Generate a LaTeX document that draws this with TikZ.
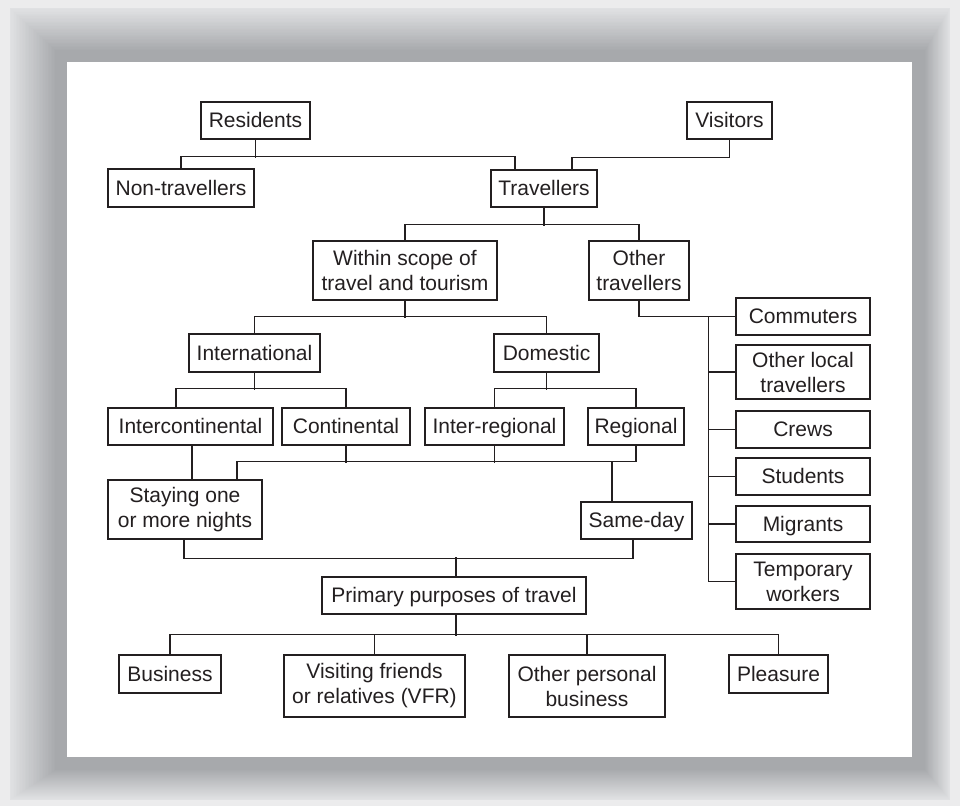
\documentclass[tikz,border=0pt]{standalone}
\usepackage{fontspec}
\setmainfont{Liberation Sans}
\definecolor{ink}{HTML}{231F20}
\definecolor{shlight}{HTML}{E0E1E3}
\definecolor{shdark}{HTML}{A7A9AC}
\definecolor{pagebg}{HTML}{ECECED}
\begin{document}
\begin{tikzpicture}[x=1pt,y=-1pt,
  basebox/.style={draw=ink, line width=1.3pt, text=ink, inner sep=0pt,
    minimum height=37pt, align=center, font=\fontsize{21}{25}\selectfont},
  box/.style={basebox, text height=18pt, text depth=4pt},
  boxtwo/.style={basebox},
  conn/.style={draw=ink, line width=1.3pt}]
\useasboundingbox (0,0) rectangle (960,806);
% background and shadow frame
\fill[pagebg] (0,0) rectangle (960,806);
\foreach \i in {0,...,30}{
  \pgfmathsetmacro\t{\i/30}
  \pgfmathtruncatemacro\p{100*\t}
  \fill[shdark!\p!shlight] ({10+45*\t},{8+42*\t}) rectangle ({950-25*\t},{800-30*\t});
}
\fill[white] (67,62) rectangle (912,757);
% nodes
\node[box, minimum width=109pt] (res) at (255.5,120.5) {Residents};
\node[box, minimum width=85pt] (vis) at (729.5,120.5) {Visitors};
\node[box, minimum width=146pt, minimum height=38pt] (non) at (181,188) {Non-travellers};
\node[box, minimum width=106pt] (trav) at (544,188.5) {Travellers};
\node[boxtwo, minimum width=184pt, minimum height=59pt] (scope) at (405,270.5) {Within scope of\\travel and tourism};
\node[boxtwo, minimum width=100pt, minimum height=59pt] (other) at (639,270.5) {Other\\travellers};
\node[box, minimum width=131pt, minimum height=38pt] (intl) at (254.5,353) {International};
\node[box, minimum width=105pt, minimum height=38pt] (dom) at (546.5,353) {Domestic};
\node[box, minimum width=165pt] (icont) at (190.5,426.5) {Intercontinental};
\node[box, minimum width=128pt] (cont) at (346,426.5) {Continental};
\node[box, minimum width=139pt] (ireg) at (494.5,426.5) {Inter-regional};
\node[box, minimum width=96pt] (reg) at (636,426.5) {Regional};
\node[boxtwo, minimum width=154pt, minimum height=59pt] (stay) at (185,509.5) {Staying one\\or more nights};
\node[box, minimum width=111pt] (same) at (636.5,520.5) {Same-day};
\node[box, minimum width=264pt] (prim) at (454,595.5) {Primary purposes of travel};
\node[box, minimum width=102pt, minimum height=38pt] (bus) at (170,674) {Business};
\node[boxtwo, minimum width=181pt, minimum height=62pt] (vfr) at (374.5,686) {Visiting friends\\or relatives (VFR)};
\node[boxtwo, minimum width=156pt, minimum height=62pt] (opb) at (587,686) {Other personal\\business};
\node[box, minimum width=99pt, minimum height=38pt] (plea) at (778.5,674) {Pleasure};
\node[box, minimum width=134pt] (comm) at (803,316.5) {Commuters};
\node[boxtwo, minimum width=134pt, minimum height=54pt] (olt) at (803,372) {Other local\\travellers};
\node[box, minimum width=134pt] (crews) at (803,429.5) {Crews};
\node[box, minimum width=134pt] (stud) at (803,476.5) {Students};
\node[box, minimum width=134pt, minimum height=36pt] (migr) at (803,524) {Migrants};
\node[boxtwo, minimum width=134pt, minimum height=55pt] (temp) at (803,581.5) {Temporary\\workers};
% connectors
\draw[conn] (res.south) -- ++(0,18);
\draw[conn] (non.north) -- ++(0,-12) -| ([xshift=-29pt]trav.north);
\draw[conn] (vis.south) -- ++(0,18) -| ([xshift=28pt]trav.north);
\draw[conn] (trav.south) -- ++(0,18);
\draw[conn] (scope.north) -- ++(0,-16) -| (other.north);
\draw[conn] (scope.south) -- ++(0,17);
\draw[conn] (intl.north) -- ++(0,-17) -| (dom.north);
\draw[conn] (intl.south) -- ++(0,17);
\draw[conn] ([xshift=-14.5pt]icont.north) -- ++(0,-19) -| (cont.north);
\draw[conn] (dom.south) -- ++(0,17);
\draw[conn] (ireg.north) -- ++(0,-19) -| (reg.north);
\draw[conn] ([xshift=1.5pt]icont.south) -- ([xshift=1.5pt]icont.south |- stay.north);
\draw[conn] (cont.south) -- ++(0,17);
\draw[conn] (ireg.south) -- ++(0,17);
\draw[conn] ([xshift=52pt]stay.north) -- ++(0,-18) -| (reg.south);
\draw[conn] ([xshift=-24.5pt]same.north) -- ++(0,-40);
\draw[conn] ([xshift=-1pt]stay.south) -- ++(0,19) -| ([xshift=-3.5pt]same.south);
\draw[conn] ([xshift=2pt]prim.north) -- ++(0,-19);
\draw[conn] ([xshift=2pt]prim.south) -- ++(0,21);
\draw[conn] (bus.north) -- ++(0,-20) -| (plea.north);
\draw[conn] (vfr.north) -- ++(0,-20);
\draw[conn] (opb.north) -- ++(0,-20);
\draw[conn] (other.south) |- (comm.west);
\draw[conn] ([xshift=-27pt]comm.west) |- (temp.west);
\draw[conn] ([xshift=-27pt]olt.west) -- (olt.west);
\draw[conn] ([xshift=-27pt]crews.west) -- (crews.west);
\draw[conn] ([xshift=-27pt]stud.west) -- (stud.west);
\draw[conn] ([xshift=-27pt]migr.west) -- (migr.west);
\end{tikzpicture}
\end{document}
